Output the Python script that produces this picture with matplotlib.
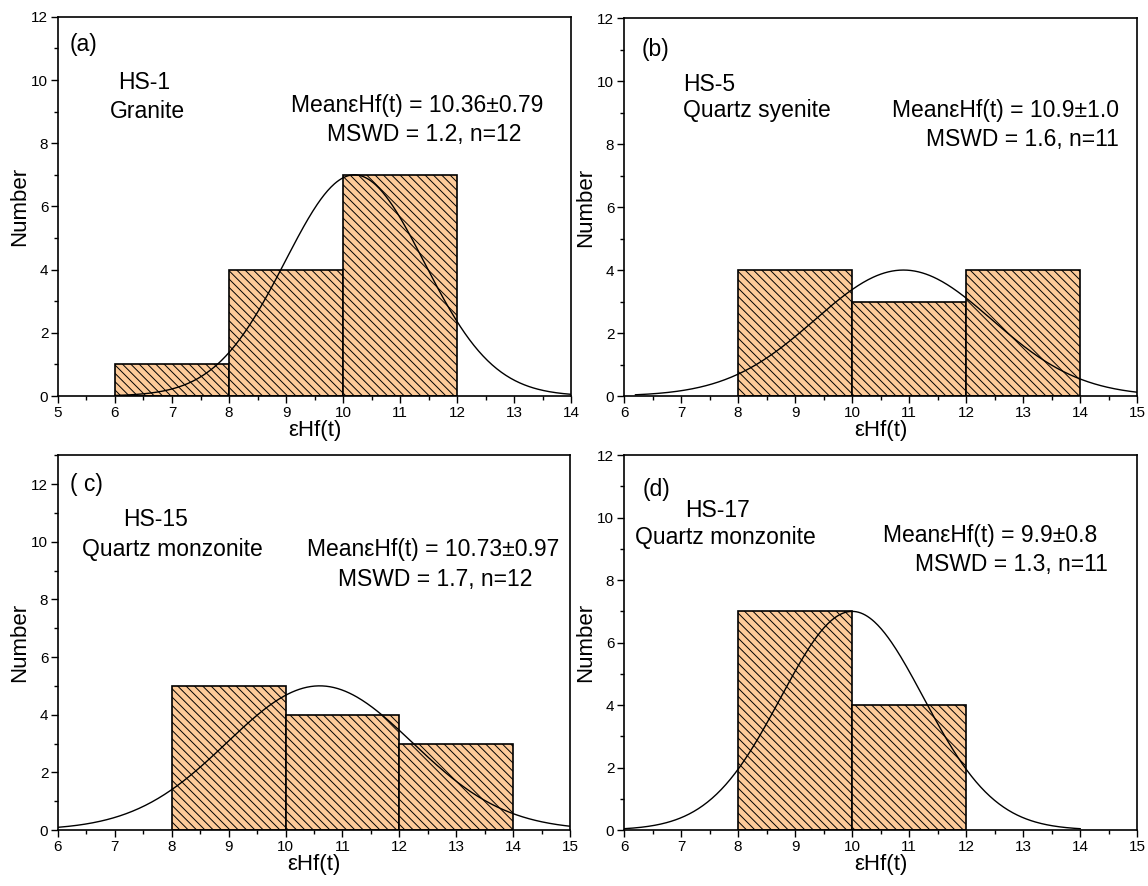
import matplotlib
matplotlib.use("Agg")
import matplotlib.pyplot as plt
from matplotlib.ticker import MultipleLocator
import numpy as np

plt.rcParams['font.family'] = ['Liberation Sans', 'DejaVu Sans']
plt.rcParams['hatch.linewidth'] = 0.7

# histogram data: left bin edges and counts (bin width 2)
a_left = [6, 8, 10]
a_count = [1, 4, 7]
b_left = [8, 10, 12]
b_count = [4, 3, 4]
c_left = [8, 10, 12]
c_count = [5, 4, 3]
d_left = [8, 10]
d_count = [7, 4]

# normal curve parameters: centre, sigma, peak, x range
a_curve = (10.2, 1.22, 7, 6.0, 14.0)
b_curve = (10.9, 1.55, 4, 6.2, 15.0)
c_curve = (10.6, 1.63, 5, 6.0, 15.0)
d_curve = (10.0, 1.25, 7, 6.0, 14.0)

xlims = [(5, 14), (6, 15), (6, 15), (6, 15)]
ylims = [(0, 12), (0, 12), (0, 13), (0, 12)]

tags = ['(a)', '(b)', '( c)', '(d)']
samples = ['HS-1', 'HS-5', 'HS-15', 'HS-17']
rocks = ['Granite', 'Quartz syenite', 'Quartz monzonite', 'Quartz monzonite']
means = ['MeanεHf(t) = 10.36±0.79', 'MeanεHf(t) = 10.9±1.0',
         'MeanεHf(t) = 10.73±0.97', 'MeanεHf(t) = 9.9±0.8']
mswd = ['MSWD = 1.2, n=12', 'MSWD = 1.6, n=11',
        'MSWD = 1.7, n=12', 'MSWD = 1.3, n=11']

# axes boxes in figure fractions
boxes = [(0.0505, 0.553, 0.447, 0.428),
         (0.5436, 0.553, 0.447, 0.4266),
         (0.0505, 0.0632, 0.446, 0.423),
         (0.5436, 0.0632, 0.447, 0.423)]

# text positions in axes fractions: tag, sample, rock, mean, mswd
text_pos = [
    [(0.023, 0.928), (0.117, 0.828), (0.101, 0.751), (0.455, 0.767), (0.525, 0.691)],
    [(0.035, 0.917), (0.115, 0.825), (0.115, 0.756), (0.523, 0.756), (0.588, 0.679)],
    [(0.023, 0.922), (0.127, 0.829), (0.047, 0.749), (0.486, 0.749), (0.547, 0.669)],
    [(0.037, 0.909), (0.119, 0.853), (0.021, 0.781), (0.505, 0.786), (0.567, 0.709)],
]

lefts = [a_left, b_left, c_left, d_left]
counts = [a_count, b_count, c_count, d_count]
curves = [a_curve, b_curve, c_curve, d_curve]

fig = plt.figure(figsize=(11.48, 8.86), dpi=100)

for i in range(4):
    ax = fig.add_axes(boxes[i])
    ax.bar(lefts[i], counts[i], width=2, align='edge', color='#FDCB9A',
           edgecolor='black', linewidth=1.2, hatch='\\\\\\\\', zorder=2)

    mu, sig, peak, x0, x1 = curves[i]
    xs = np.linspace(x0, x1, 400)
    ax.plot(xs, peak * np.exp(-(xs - mu) ** 2 / (2 * sig ** 2)),
            color='black', lw=1.0, zorder=3)

    ax.set_xlim(*xlims[i])
    ax.set_ylim(*ylims[i])
    ax.xaxis.set_major_locator(MultipleLocator(1))
    ax.xaxis.set_minor_locator(MultipleLocator(0.5))
    ax.set_yticks(range(0, 13, 2))
    ax.yaxis.set_minor_locator(MultipleLocator(1))
    ax.tick_params(which='both', direction='out', labelsize=11, width=1.0)
    ax.tick_params(which='major', length=5, pad=2)
    ax.tick_params(which='minor', length=3)
    for s in ax.spines.values():
        s.set_linewidth(1.2)

    ax.set_xlabel('εHf(t)', fontsize=16, labelpad=0)
    ax.set_ylabel('Number', fontsize=16, labelpad=1)

    p = text_pos[i]
    kw = dict(transform=ax.transAxes, fontsize=16.5, va='center')
    ax.text(*p[0], tags[i], **kw)
    ax.text(*p[1], samples[i], **kw)
    ax.text(*p[2], rocks[i], **kw)
    ax.text(*p[3], means[i], **kw)
    ax.text(*p[4], mswd[i], **kw)

fig.savefig('out.png', dpi=100)
